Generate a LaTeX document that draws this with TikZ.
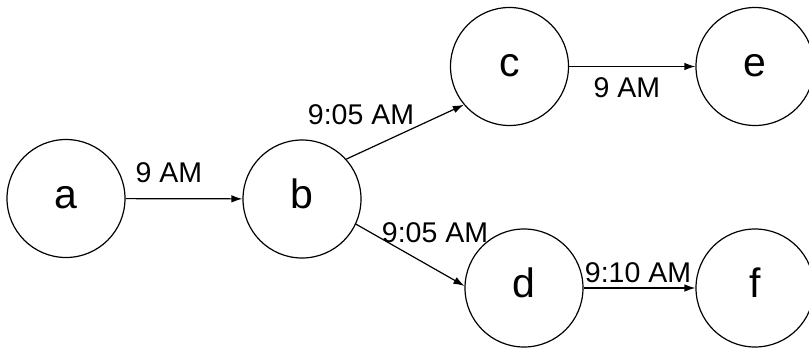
\documentclass[tikz,border=0pt]{standalone}
\usepackage{fontspec}
\setmainfont{Liberation Sans}
\usetikzlibrary{arrows.meta}
\begin{document}
\begin{tikzpicture}[x=1pt,y=-1pt,
  vertex/.style={draw=black, line width=1.2pt, circle, minimum size=118pt, inner sep=0pt, text height=19pt, text depth=0pt, font=\fontsize{41}{48}\selectfont},
  edgelbl/.style={inner sep=0pt, font=\fontsize{28.5}{34}\selectfont},
  conn/.style={draw=black, line width=1.2pt, -{Latex[length=11pt,width=7.5pt]}}]
\useasboundingbox (0,0) rectangle (809,348);
\node[vertex] (a) at (66,198.5) {a};
\node[vertex] (b) at (302,199) {b};
\node[vertex] (c) at (509.5,66.5) {c};
\node[vertex] (e) at (755,66.5) {e};
\node[vertex] (d) at (524,288) {d};
\node[vertex] (f) at (755,288) {f};
\draw[conn] (a) -- (b);
\draw[conn] (b.42) -- (c.220);
\draw[conn] (b.-25) -- (d.178);
\draw[conn] (c) -- (e);
\draw[conn] (d) -- (f);
\node[edgelbl] (l1) at (169,173) {9 AM};
\node[edgelbl] (l2) at (361,114.5) {9:05 AM};
\node[edgelbl] (l3) at (435,233) {9:05 AM};
\node[edgelbl] (l4) at (638,273) {9:10 AM};
\node[edgelbl] (l5) at (627,88) {9 AM};
\end{tikzpicture}
\end{document}
